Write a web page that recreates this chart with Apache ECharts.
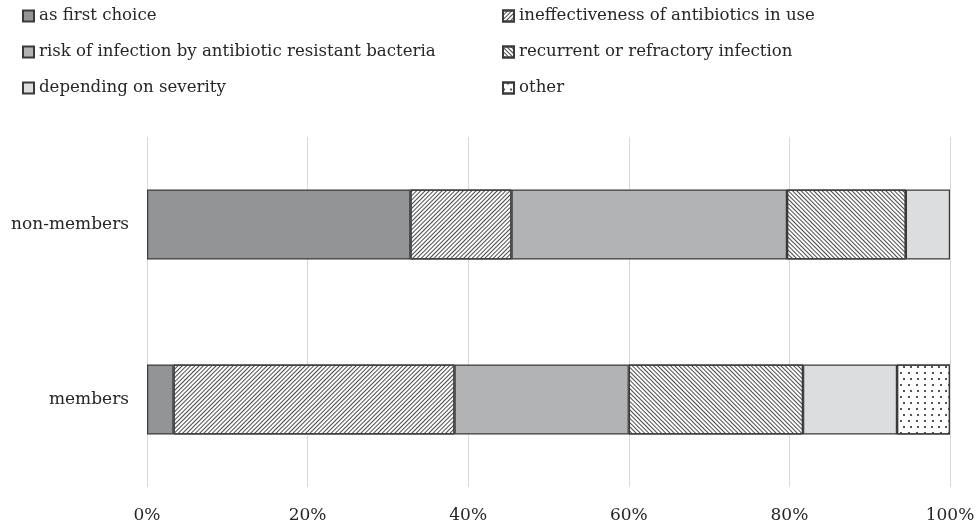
<!DOCTYPE html>
<html>
<head>
<meta charset="utf-8">
<script src="https://cdn.jsdelivr.net/npm/echarts@6/dist/echarts.min.js"></script>
<style>html,body{margin:0;padding:0;background:#fff}#c{width:979px;height:529px}</style>
</head>
<body>
<div id="c"></div>
<script>
var categories = ['members', 'non-members'];
var seriesNames = ['as first choice', 'ineffectiveness of antibiotics in use', 'risk of infection by antibiotic resistant bacteria', 'recurrent or refractory infection', 'depending on severity', 'other'];
var asFirstChoice = [3.3, 32.8];
var ineffectiveness = [35.0, 12.6];
var riskResistant = [21.7, 34.3];
var recurrent = [21.7, 14.8];
var dependingSeverity = [11.7, 5.5];
var other = [6.6, null];
var xTicks = [0, 20, 40, 60, 80, 100];

var font = 'DejaVu Serif';
var txt = '#262626';
var border = '#3a3a3a';

function mk(name, data, color, decal) {
  var s = {
    name: name, type: 'bar', stack: 'all', data: data, barWidth: '40%',
    itemStyle: { color: color, borderColor: border, borderWidth: 1.2 },
    emphasis: { disabled: true }
  };
  if (decal) s.itemStyle.decal = decal;
  return s;
}
var hatchA = { symbol: 'rect', symbolSize: 1, dashArrayX: [1, 0], dashArrayY: [1, 1.3], rotation: -Math.PI / 4, color: '#4a4a4a' };
var hatchB = { symbol: 'rect', symbolSize: 1, dashArrayX: [1, 0], dashArrayY: [1, 1.3], rotation: Math.PI / 4, color: '#4a4a4a' };
var dots = { symbol: 'rect', symbolSize: 1, dashArrayX: [[1.5, 5], [0, 3.25, 1.5, 1.75]], dashArrayY: [1.5, 3.5], rotation: 0, color: '#555' };

var legendText = { fontFamily: font, fontSize: 16.6, color: txt, lineHeight: 20 };
var chart = echarts.init(document.getElementById('c'), null, { renderer: 'canvas' });
chart.setOption({
  animation: false,
  textStyle: { fontFamily: font, color: txt },
  grid: { left: 147, right: 29, top: 137, bottom: 42 },
  legend: [
    { left: 22, top: 6, padding: 0, orient: 'vertical', icon: 'rect', itemWidth: 11, itemHeight: 11, itemGap: 16,
      data: [seriesNames[0], seriesNames[2], seriesNames[4]], textStyle: legendText },
    { left: 502, top: 6, padding: 0, orient: 'vertical', icon: 'rect', itemWidth: 11, itemHeight: 11, itemGap: 16,
      data: [seriesNames[1], seriesNames[3], seriesNames[5]], textStyle: legendText }
  ],
  xAxis: {
    type: 'value', min: xTicks[0], max: xTicks[xTicks.length - 1], interval: 20,
    axisLine: { show: false }, axisTick: { show: false },
    splitLine: { lineStyle: { color: '#d9d9d9', width: 1 } },
    axisLabel: { formatter: '{value}%', fontFamily: font, fontSize: 17, color: txt, margin: 20 }
  },
  yAxis: {
    type: 'category', data: categories,
    axisLine: { show: false }, axisTick: { show: false },
    axisLabel: { fontFamily: font, fontSize: 17, color: txt, margin: 18 }
  },
  series: [
    mk(seriesNames[0], asFirstChoice, '#939496'),
    mk(seriesNames[1], ineffectiveness, '#ffffff', hatchA),
    mk(seriesNames[2], riskResistant, '#b2b3b5'),
    mk(seriesNames[3], recurrent, '#ffffff', hatchB),
    mk(seriesNames[4], dependingSeverity, '#dcdddf'),
    mk(seriesNames[5], other, '#ffffff', dots)
  ]
});
</script>
</body>
</html>
